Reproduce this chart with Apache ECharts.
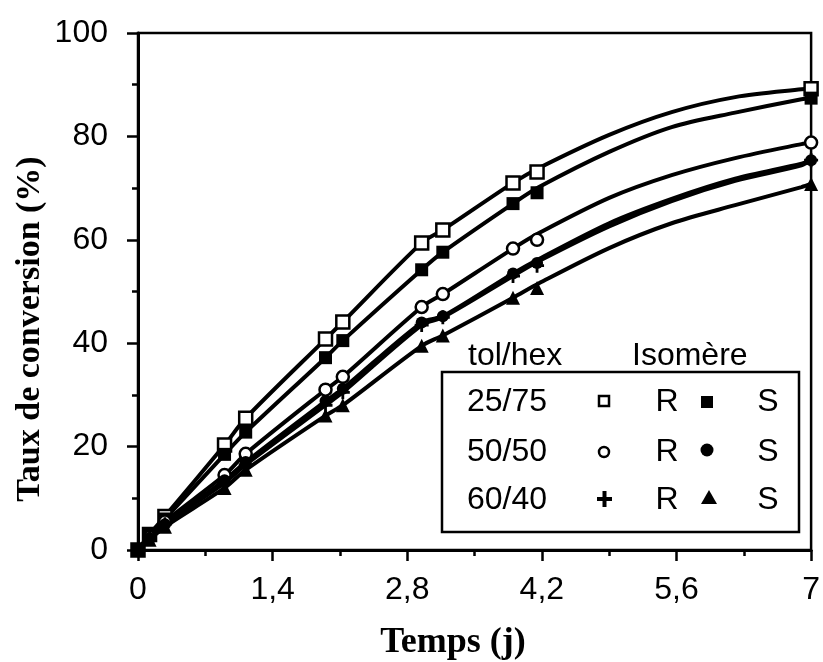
<!DOCTYPE html>
<html>
<head>
<meta charset="utf-8">
<script src="https://cdn.jsdelivr.net/npm/echarts@6/dist/echarts.min.js"></script>
<style>html,body{margin:0;padding:0;background:#fff}#c{width:823px;height:662px}</style>
</head>
<body>
<div id="c"></div>
<script>
// Measured times (days) of the markers
const markerT = [0, 0.12, 0.28, 0.9, 1.12, 1.95, 2.13, 2.95, 3.17, 3.9, 4.15, 7];
// Conversion (%) at the markers
const R25 = [0, 3, 6.5, 20.3, 25.5, 40.8, 44.1, 59.4, 61.9, 71.0, 73.1, 89.2];
const S25 = [0, 2.8, 6, 18.5, 22.8, 37.2, 40.5, 54.2, 57.6, 67.0, 69.1, 87.4];
const R50 = [0, 2.5, 5.5, 14.5, 18.6, 31.0, 33.5, 47.0, 49.5, 58.3, 60.0, 78.8];
const S50 = [0, 2.3, 5, 13.5, 17.0, 28.8, 31.2, 44.0, 45.2, 53.5, 55.5, 75.4];
const R60 = [0, 2.2, 5, 13.0, 16.5, 28.0, 30.5, 43.5, 45.0, 53.0, 55.0, 75.4];
const S60 = [0, 2.0, 4.5, 12.0, 15.5, 26.0, 28.0, 39.5, 41.5, 48.8, 50.7, 70.8];
// Fitted curves (early part follows the markers up to t = 3.9)
const curveT = [0, 0.12, 0.28, 0.9, 1.12, 1.95, 2.13, 2.95, 3.17, 3.9, 4.17, 4.9, 5.55, 6.21, 6.9, 7];
const R25c = [0, 3, 6.5, 20.3, 25.5, 40.8, 44.1, 59.4, 61.9, 71.0, 73.9, 80.3, 84.7, 87.6, 89.1, 89.2];
const S25c = [0, 2.8, 6, 18.5, 22.8, 37.2, 40.5, 54.2, 57.6, 67.0, 70.2, 77.0, 81.8, 84.6, 87.2, 87.4];
const R50c = [0, 2.5, 5.5, 14.5, 18.6, 31.0, 33.5, 47.0, 49.5, 58.3, 61.3, 68.1, 72.5, 75.8, 78.5, 78.8];
const S50c = [0, 2.3, 5, 13.5, 17.0, 28.8, 31.2, 44.0, 45.2, 53.5, 56.3, 63.2, 67.9, 71.8, 74.7, 75.4];
const R60c = [0, 2.2, 5, 13.0, 16.5, 28.0, 30.5, 43.5, 45.0, 53.0, 55.9, 62.6, 67.5, 71.4, 74.4, 75.4];
const S60c = [0, 2.0, 4.5, 12.0, 15.5, 26.0, 28.0, 39.5, 41.5, 48.8, 51.6, 58.4, 63.2, 66.7, 70.2, 70.8];
// Axis ticks
const xTicks = [0, 1.4, 2.8, 4.2, 5.6, 7];
const yTicks = [0, 20, 40, 60, 80, 100];
// Legend
const legendRows = ['25/75', '50/50', '60/40'];
const legendHeader = ['tol/hex', 'Isomère'];
const isomers = ['R', 'S'];

const plusPath = 'path://M4,0H6V4H10V6H6V10H4V6H0V4H4Z';
const styles = [
  {vals: R25, curve: R25c, symbol: 'rect', size: 13, fill: '#fff', bw: 2.5},
  {vals: S25, curve: S25c, symbol: 'rect', size: 13, fill: '#000', bw: 0},
  {vals: R50, curve: R50c, symbol: 'circle', size: 12, fill: '#fff', bw: 2.5},
  {vals: S50, curve: S50c, symbol: 'circle', size: 12, fill: '#000', bw: 0},
  {vals: R60, curve: R60c, symbol: plusPath, size: 14, fill: '#000', bw: 0},
  {vals: S60, curve: S60c, symbol: 'triangle', size: 14, fill: '#000', bw: 0}
];

const series = [];
styles.forEach(s => {
  series.push({type: 'line', data: curveT.map((t, i) => [t, s.curve[i]]), smooth: 0.3,
    symbol: 'none', showSymbol: false, lineStyle: {color: '#000', width: 4}, z: 2, silent: true});
  series.push({type: 'scatter', data: markerT.map((t, i) => [t, s.vals[i]]), symbol: s.symbol,
    symbolSize: s.size, itemStyle: {color: s.fill, borderColor: '#000', borderWidth: s.bw, opacity: 1}, z: 3});
});

const font = 'Liberation Sans, Arial, Helvetica, sans-serif';
const serif = 'Liberation Serif, Times New Roman, serif';
const fmt = v => String(+(+v).toFixed(1)).replace('.', ',');

const graphic = [];
graphic.push({type: 'text', x: 30, y: 329, rotation: Math.PI / 2,
  style: {text: 'Taux de conversion (%)', font: 'bold 34px ' + serif, fill: '#000', textAlign: 'center', textVerticalAlign: 'middle'}});
graphic.push({type: 'text', x: 453, y: 643,
  style: {text: 'Temps (j)', font: 'bold 36px ' + serif, fill: '#000', textAlign: 'center', textVerticalAlign: 'middle'}});
graphic.push({type: 'rect', shape: {x: 442, y: 372, width: 357, height: 160}, z: 10,
  style: {fill: '#fff', stroke: '#000', lineWidth: 2.5}});
graphic.push({type: 'text', x: 468, y: 356, z: 11, style: {text: legendHeader[0], font: '32px ' + font, fill: '#000', textAlign: 'left', textVerticalAlign: 'middle'}});
graphic.push({type: 'text', x: 632, y: 356, z: 11, style: {text: legendHeader[1], font: '32px ' + font, fill: '#000', textAlign: 'left', textVerticalAlign: 'middle'}});
const rowY = [402, 452, 500];
legendRows.forEach((lab, r) => {
  const y = rowY[r];
  graphic.push({type: 'text', x: 467, y: y, z: 11, style: {text: lab, font: '32px ' + font, fill: '#000', textAlign: 'left', textVerticalAlign: 'middle'}});
  graphic.push({type: 'text', x: 667, y: y, z: 11, style: {text: isomers[0], font: '32px ' + font, fill: '#000', textAlign: 'center', textVerticalAlign: 'middle'}});
  graphic.push({type: 'text', x: 768, y: y, z: 11, style: {text: isomers[1], font: '32px ' + font, fill: '#000', textAlign: 'center', textVerticalAlign: 'middle'}});
});
// legend symbols
graphic.push({type: 'rect', z: 11, shape: {x: 599, y: 396, width: 10, height: 10}, style: {fill: '#fff', stroke: '#000', lineWidth: 2.5}});
graphic.push({type: 'rect', z: 11, shape: {x: 701, y: 396, width: 12, height: 12}, style: {fill: '#000'}});
graphic.push({type: 'circle', z: 11, shape: {cx: 604, cy: 452, r: 5}, style: {fill: '#fff', stroke: '#000', lineWidth: 2.5}});
graphic.push({type: 'circle', z: 11, shape: {cx: 707, cy: 450, r: 6.5}, style: {fill: '#000'}});
graphic.push({type: 'rect', z: 11, shape: {x: 597, y: 497, width: 15, height: 4}, style: {fill: '#000'}});
graphic.push({type: 'rect', z: 11, shape: {x: 602.5, y: 491, width: 4, height: 16}, style: {fill: '#000'}});
graphic.push({type: 'polygon', z: 11, shape: {points: [[709, 490], [717, 504], [701, 504]]}, style: {fill: '#000'}});

const chart = echarts.init(document.getElementById('c'));
chart.setOption({
  animation: false,
  backgroundColor: '#fff',
  grid: {left: 138, right: 11, top: 33, bottom: 112, show: true, borderColor: '#000', borderWidth: 2.5, backgroundColor: 'transparent'},
  xAxis: {type: 'value', min: xTicks[0], max: xTicks[xTicks.length - 1], interval: xTicks[1] - xTicks[0],
    axisLine: {show: true, onZero: false, lineStyle: {color: '#000', width: 3}},
    axisTick: {show: true, inside: false, length: 11, lineStyle: {color: '#000', width: 2.5}},
    minorTick: {show: true, splitNumber: 2, length: 6, lineStyle: {color: '#000', width: 2.5}},
    splitLine: {show: false}, minorSplitLine: {show: false},
    axisLabel: {fontSize: 32, color: '#000', fontFamily: font, margin: 24, showMaxLabel: true, showMinLabel: true, formatter: fmt}},
  yAxis: {type: 'value', min: yTicks[0], max: yTicks[yTicks.length - 1], interval: yTicks[1] - yTicks[0],
    axisLine: {show: true, onZero: false, lineStyle: {color: '#000', width: 3}},
    axisTick: {show: true, inside: false, length: 11, lineStyle: {color: '#000', width: 2.5}},
    minorTick: {show: true, splitNumber: 2, length: 6, lineStyle: {color: '#000', width: 2.5}},
    splitLine: {show: false}, minorSplitLine: {show: false},
    axisLabel: {fontSize: 32, color: '#000', fontFamily: font, margin: 30, formatter: fmt}},
  series: series,
  graphic: graphic
});
</script>
</body>
</html>
